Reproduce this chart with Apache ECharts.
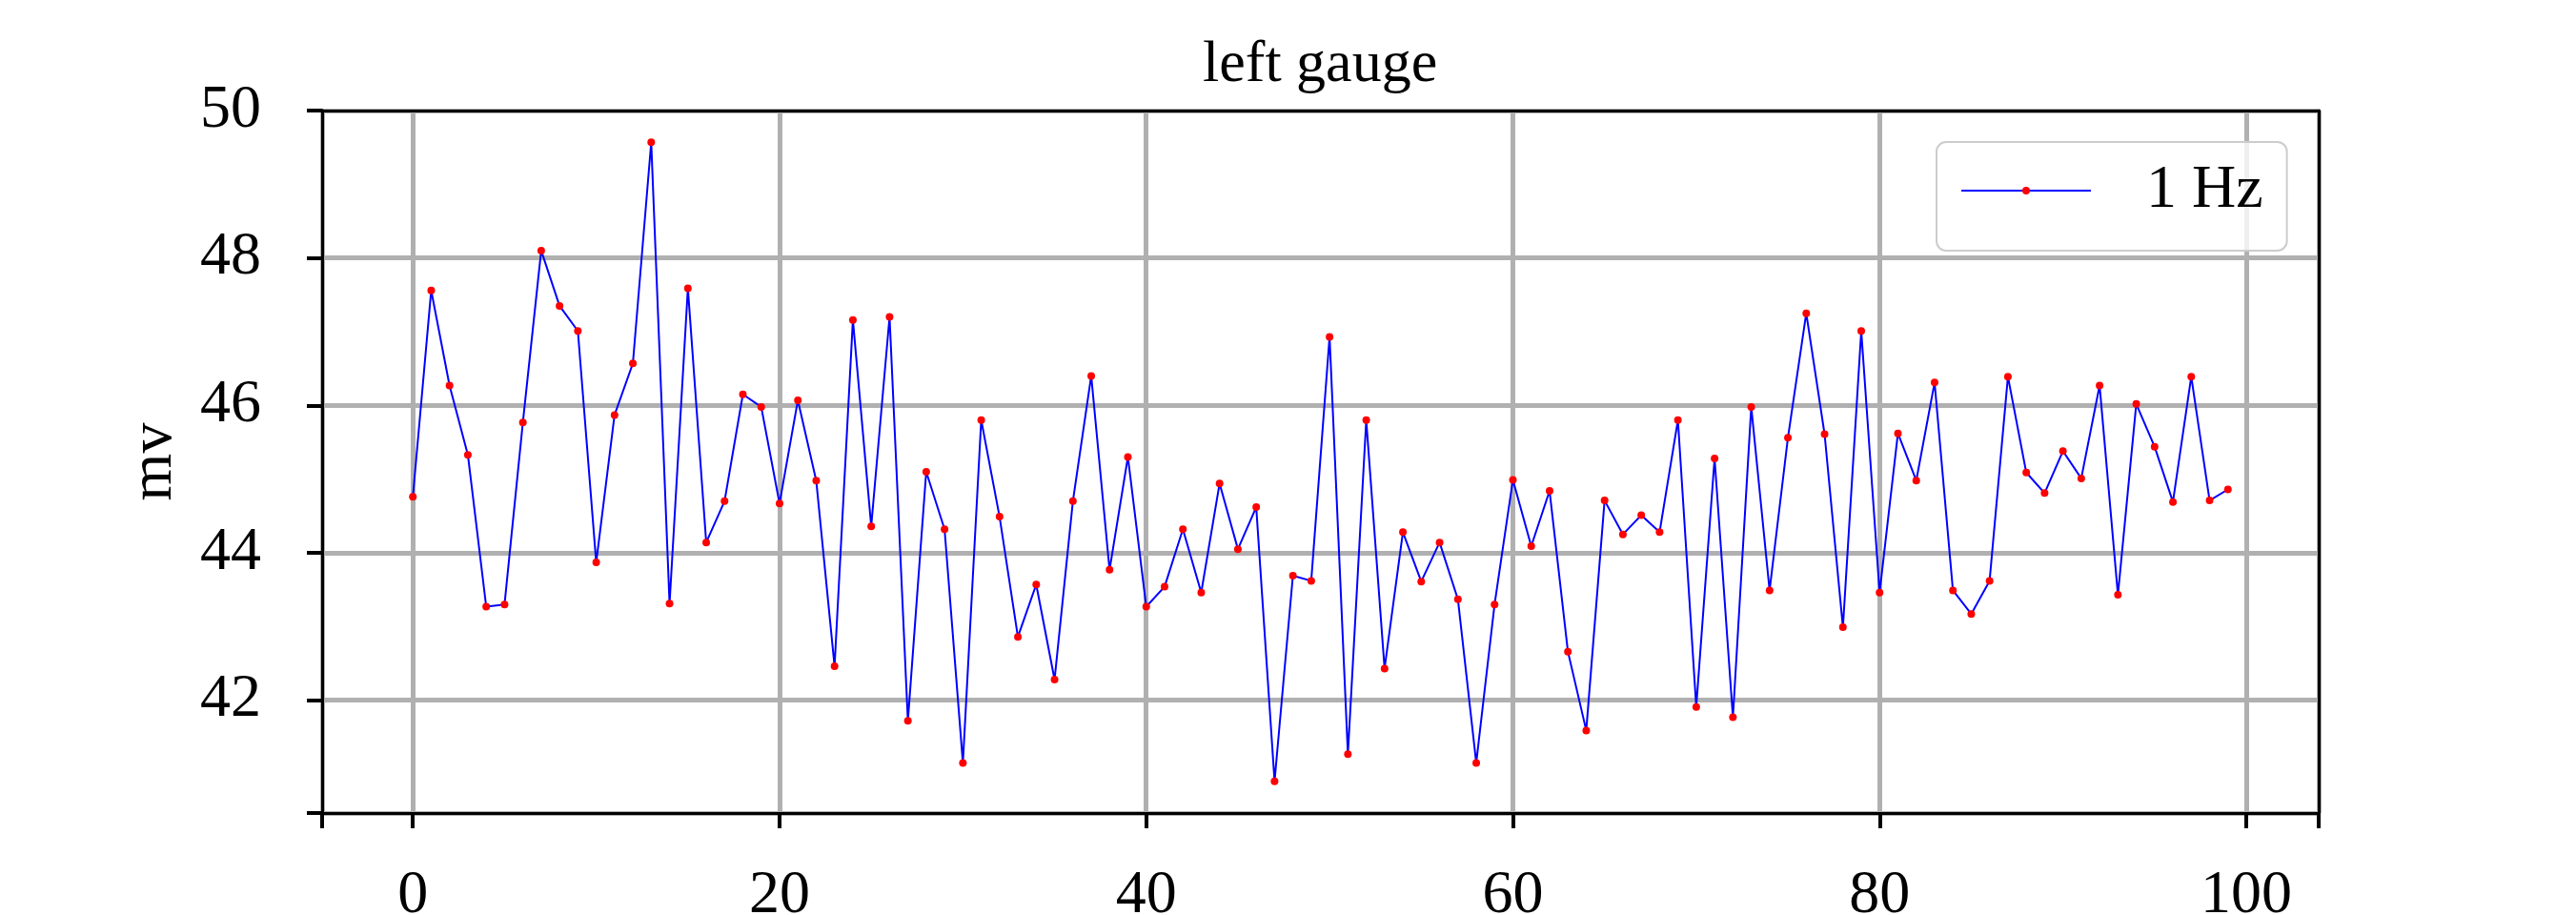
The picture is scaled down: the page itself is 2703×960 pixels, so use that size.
<!DOCTYPE html>
<html>
<head>
<meta charset="utf-8">
<title>left gauge</title>
<script src="https://cdn.jsdelivr.net/npm/echarts@6/dist/echarts.min.js"></script>
<style>
  html, body { margin: 0; padding: 0; background: #fff; }
  #gaugeChart { width: 2703px; height: 960px; }
</style>
</head>
<body>
<div id="gaugeChart"></div>
<script>
// sample index and the reading in mv for each sample
var sampleIdx = [];
for (var i = 0; i < 100; i++) sampleIdx.push(i);
var mvValues = [
	44.76, 47.56, 46.27, 45.33, 43.27, 43.30, 45.77, 48.10, 47.35, 47.01,
	43.87, 45.87, 46.57, 49.57, 43.31, 47.59, 44.14, 44.70, 46.15, 45.98,
	44.67, 46.07, 44.98, 42.46, 47.16, 44.36, 47.20, 41.72, 45.10, 44.32,
	41.15, 45.80, 44.49, 42.86, 43.57, 42.28, 44.70, 46.40, 43.77, 45.30,
	43.27, 43.54, 44.32, 43.46, 44.94, 44.05, 44.62, 40.90, 43.69, 43.62,
	46.93, 41.27, 45.80, 42.43, 44.28, 43.61, 44.14, 43.37, 41.15, 43.30,
	44.99, 44.09, 44.84, 42.66, 41.59, 44.71, 44.25, 44.51, 44.28, 45.80,
	41.91, 45.28, 41.77, 45.98, 43.49, 45.56, 47.25, 45.61, 42.99, 47.01,
	43.46, 45.62, 44.98, 46.31, 43.49, 43.17, 43.62, 46.39, 45.09, 44.81,
	45.38, 45.01, 46.27, 43.43, 46.02, 45.44, 44.69, 46.39, 44.71, 44.86
];
var xTicks = [0, 20, 40, 60, 80, 100];
var yTicks = [42, 44, 46, 48, 50];
var seriesName = '1 Hz';

var FONT = 'Liberation Serif';

function showGauge() {
	var points = [];
	for (var i = 0; i < sampleIdx.length; i++) {
		points.push([sampleIdx[i], mvValues[i]]);
	}
	var gridLine = { show: true, lineStyle: { color: '#b0b0b0', width: 5 } };
	var frameLine = { show: true, onZero: false, lineStyle: { color: '#000', width: 3 } };
	var labelStyle = { fontFamily: FONT, fontSize: 64, color: '#000' };
	// plain frame edge, drawn above the grid lines
	function frameAxis(pos, lo, hi) {
		return {
			type: 'value', position: pos, min: lo, max: hi, z: 5,
			axisLine: frameLine,
			axisTick: { show: false }, axisLabel: { show: false }, splitLine: { show: false }
		};
	}

	var option = {
		animation: false,
		backgroundColor: '#fff',
		title: {
			text: 'left gauge',
			left: 1262,
			top: 38,
			padding: 0,
			textStyle: { fontFamily: FONT, fontSize: 62, fontWeight: 'normal', color: '#000' }
		},
		legend: {
			data: [seriesName],
			left: 2032,
			top: 149,
			padding: [19, 25, 31, 25],
			itemWidth: 136,
			itemHeight: 10,
			borderColor: '#cccccc',
			borderWidth: 2,
			borderRadius: 10,
			backgroundColor: 'rgba(255,255,255,0.8)',
			textStyle: { fontFamily: FONT, fontSize: 64, color: '#000', padding: [0, 0, 0, 53] }
		},
		grid: {
			left: 338,
			right: 270,
			top: 116,
			bottom: 107,
			containLabel: false,
			outerBoundsMode: 'none'
		},
		xAxis: [
			{
				type: 'value',
				min: -4.95,
				max: 103.95,
				z: 3,
				axisLine: frameLine,
				axisTick: { show: true, length: 16, lineStyle: { color: '#000', width: 4 } },
				axisLabel: Object.assign({
					margin: 55,
					formatter: function (v) { return xTicks.indexOf(v) >= 0 ? String(v) : ''; }
				}, labelStyle),
				splitLine: gridLine
			},
			frameAxis('top', -4.95, 103.95),
			frameAxis('bottom', -4.95, 103.95)
		],
		yAxis: [
			{
				type: 'value',
				min: 40.47,
				max: 50,
				z: 3,
				name: 'mv',
				nameLocation: 'middle',
				nameGap: 144,
				nameTextStyle: labelStyle,
				axisLine: frameLine,
				axisTick: { show: true, length: 16, lineStyle: { color: '#000', width: 4 } },
				axisLabel: Object.assign({
					margin: 64,
					formatter: function (v) { return yTicks.indexOf(v) >= 0 ? String(v) : ''; }
				}, labelStyle),
				splitLine: gridLine
			},
			frameAxis('right', 40.47, 50),
			frameAxis('left', 40.47, 50)
		],
		series: [
			{
				name: seriesName,
				type: 'line',
				xAxisIndex: 0,
				yAxisIndex: 0,
				data: points,
				symbol: 'circle',
				symbolSize: 8,
				showAllSymbol: true,
				z: 3,
				lineStyle: { color: '#0000ff', width: 2 },
				itemStyle: { color: '#ff0000', borderWidth: 0 }
			}
		]
	};
	var chart = echarts.init(document.getElementById('gaugeChart'));
	chart.setOption(option);
}
showGauge();
</script>
</body>
</html>
